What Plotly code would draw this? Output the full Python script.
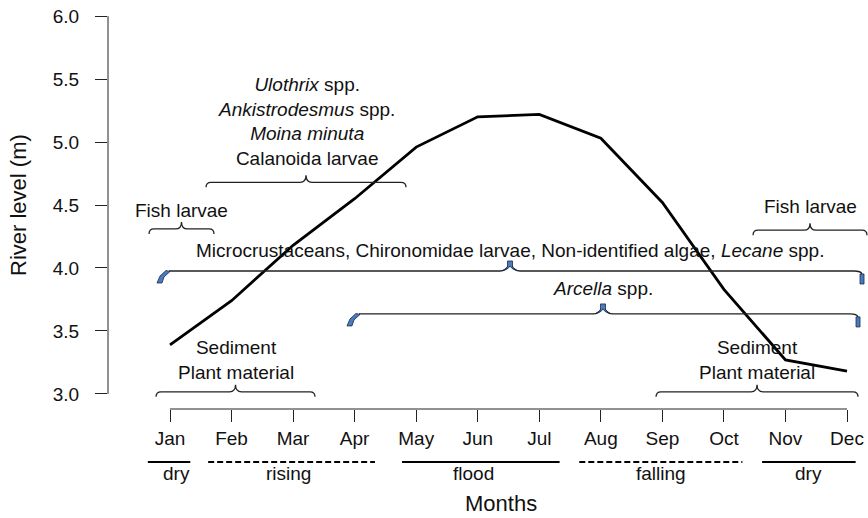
import plotly.graph_objects as go

# ---------------- data ----------------
months = ["Jan", "Feb", "Mar", "Apr", "May", "Jun", "Jul", "Aug", "Sep", "Oct", "Nov", "Dec"]
month_pos = list(range(1, 13))
river_level = [3.39, 3.74, 4.18, 4.55, 4.96, 5.20, 5.22, 5.03, 4.52, 3.83, 3.27, 3.18]

y_ticks = [3.0, 3.5, 4.0, 4.5, 5.0, 5.5, 6.0]

# food-item presence brackets (month span, level of bracket, label)
br_labels = [
    "Fish larvae",
    "<i>Ulothrix</i> spp.<br><i>Ankistrodesmus</i> spp.<br><i>Moina minuta</i><br>Calanoida larvae",
    "Microcrustaceans, Chironomidae larvae, Non-identified algae, <i>Lecane</i> spp.",
    "<i>Arcella</i> spp.",
    "Sediment<br>Plant material",
    "Sediment<br>Plant material",
    "Fish larvae",
]
br_start = [0.659, 1.585, 0.805, 3.892, 0.773, 8.897, 10.473]
br_end = [1.715, 4.835, 12.244, 12.179, 3.356, 12.179, 12.325]
br_y = [4.31, 4.68, 3.976, 3.635, 3.016, 3.016, 4.30]
br_label_y = [4.46, 5.165, 4.135, 3.833, 3.27, 3.27, 4.488]
br_blue = [False, False, True, True, False, False, False]

season_names = ["dry", "rising", "flood", "falling", "dry"]
season_start = [0.64, 1.62, 4.77, 7.65, 10.62]
season_end = [1.33, 4.33, 7.33, 10.30, 12.14]
season_dashed = [False, True, False, True, False]
season_label_x = [1.10, 2.93, 5.93, 8.97, 11.37]

# ---------------- layout constants ----------------
W, H = 868, 518
ML, MR, MT, MB = 108, 0, 1, 109
PW, PH = W - ML - MR, H - MT - MB
XR = [-0.0074, 12.341]
YR = [2.88, 6.12]
px_x = (XR[1] - XR[0]) / PW
px_y = (YR[1] - YR[0]) / PH

FONT = "Liberation Sans, Arial, Helvetica, sans-serif"
FS = 19
FS_LAB = 22
TXT = "#111111"
BLUE = "#4a7bbd"
NAVY = "#1a2a4a"


def P(x, y, dx=0.0, dy=0.0):
    return f"{x + dx * px_x:.5f},{y + dy * px_y:.5f}"


def poly(x, y, pts):
    s = "M " + " L ".join(P(x, y, a, b) for a, b in pts) + " Z"
    return s


fig = go.Figure()

fig.add_trace(go.Scatter(
    x=month_pos, y=river_level, mode="lines",
    line=dict(color="black", width=2.8),
    hoverinfo="skip", showlegend=False,
))

shapes = []
annotations = []

# axis lines (R style: only across the tick range)
shapes.append(dict(type="line", xref="x", yref="paper", x0=1, x1=12, y0=0, y1=0,
                   line=dict(color="#222", width=1)))
shapes.append(dict(type="line", xref="paper", yref="y", x0=0, x1=0, y0=3.0, y1=6.0,
                   line=dict(color="#222", width=1)))

# brackets
for lab, x1, x2, y, ly, blue in zip(br_labels, br_start, br_end, br_y, br_label_y, br_blue):
    xm = (x1 + x2) / 2
    if not blue:
        path = (f"M {P(x1, y, 0, -5)} Q {P(x1, y)} {P(x1, y, 5, 0)} "
                f"L {P(xm, y, -6, 0)} Q {P(xm, y)} {P(xm, y, 0, 7)} "
                f"Q {P(xm, y)} {P(xm, y, 6, 0)} "
                f"L {P(x2, y, -5, 0)} Q {P(x2, y)} {P(x2, y, 0, -5)}")
        shapes.append(dict(type="path", xref="x", yref="y", path=path,
                           line=dict(color="#222", width=1.3)))
    else:
        path = (f"M {P(x1, y, 11, 0)} L {P(xm, y, -10, 0)} "
                f"Q {P(xm, y, -4, 0)} {P(xm, y, -2, 5)} "
                f"M {P(xm, y, 2, 5)} Q {P(xm, y, 4, 0)} {P(xm, y, 10, 0)} "
                f"L {P(x2, y, -8, 0)} Q {P(x2, y, -1, 0)} {P(x2, y, 0, -3)}")
        shapes.append(dict(type="path", xref="x", yref="y", path=path,
                           line=dict(color="#222", width=1.3)))
        # left end
        shapes.append(dict(type="path", xref="x", yref="y",
                           path=poly(x1, y, [(-1, -12), (4, -12), (6, -6), (12, -0.5),
                                             (8, 0.5), (2, -5)]),
                           fillcolor=BLUE, line=dict(color=NAVY, width=0.8)))
        # tip
        shapes.append(dict(type="path", xref="x", yref="y",
                           path=poly(xm, y, [(-7, 0.5), (-2.5, 4), (-2.5, 10), (2.5, 10),
                                             (2.5, 4), (7, 0.5), (2, 2.5), (0, 5), (-2, 2.5)]),
                           fillcolor=BLUE, line=dict(color=NAVY, width=0.8)))
        # right end
        shapes.append(dict(type="path", xref="x", yref="y",
                           path=poly(x2, y, [(-2, -3), (2, -3), (2, -13), (-2, -13)]),
                           fillcolor=BLUE, line=dict(color=NAVY, width=0.8)))
    annotations.append(dict(x=xm, y=ly, xref="x", yref="y", text=lab, showarrow=False,
                            xanchor="center", yanchor="middle",
                            font=dict(family=FONT, size=FS, color=TXT)))

# hydrological seasons under the axis
SEASON_LINE_Y = (MT + PH - 462) / PH
SEASON_TXT_Y = (MT + PH - 474) / PH
for name, s0, s1, dashed, lx in zip(season_names, season_start, season_end,
                                     season_dashed, season_label_x):
    shapes.append(dict(type="line", xref="x", yref="paper", x0=s0, x1=s1,
                       y0=SEASON_LINE_Y, y1=SEASON_LINE_Y,
                       line=dict(color="black", width=2,
                                 dash="6px,3px" if dashed else "solid")))
    annotations.append(dict(x=lx, y=SEASON_TXT_Y, xref="x", yref="paper", text=name,
                            showarrow=False, xanchor="center", yanchor="middle",
                            font=dict(family=FONT, size=FS, color=TXT)))

# axis titles
annotations.append(dict(x=6.38, y=(MT + PH - 503) / PH, xref="x", yref="paper", text="Months",
                        showarrow=False, xanchor="center", yanchor="middle",
                        font=dict(family=FONT, size=FS_LAB, color=TXT)))
annotations.append(dict(x=(18 - ML) / PW, y=0.5, xref="paper", yref="paper",
                        text="River level (m)", textangle=-90, showarrow=False,
                        xanchor="center", yanchor="middle",
                        font=dict(family=FONT, size=FS_LAB, color=TXT)))

fig.update_layout(
    width=W, height=H,
    margin=dict(l=ML, r=MR, t=MT, b=MB, autoexpand=False),
    paper_bgcolor="white", plot_bgcolor="white",
    showlegend=False,
    shapes=shapes, annotations=annotations,
    xaxis=dict(range=XR, tickmode="array", tickvals=month_pos, ticktext=months,
               ticks="outside", ticklen=12, tickwidth=1, tickcolor="#222",
               showline=False, showgrid=False, zeroline=False,
               ticklabelstandoff=0,
               tickfont=dict(family=FONT, size=FS, color=TXT)),
    yaxis=dict(range=YR, tickmode="array", tickvals=y_ticks,
               ticktext=[f"{v:.1f}" for v in y_ticks],
               ticks="outside", ticklen=12, tickwidth=1, tickcolor="#222",
               showline=False, showgrid=False, zeroline=False,
               ticklabelstandoff=12,
               tickfont=dict(family=FONT, size=FS, color=TXT)),
)

fig.write_html("out.html", config={"displayModeBar": False},
               post_script="document.body.style.margin='0px';document.body.style.overflow='hidden';")
